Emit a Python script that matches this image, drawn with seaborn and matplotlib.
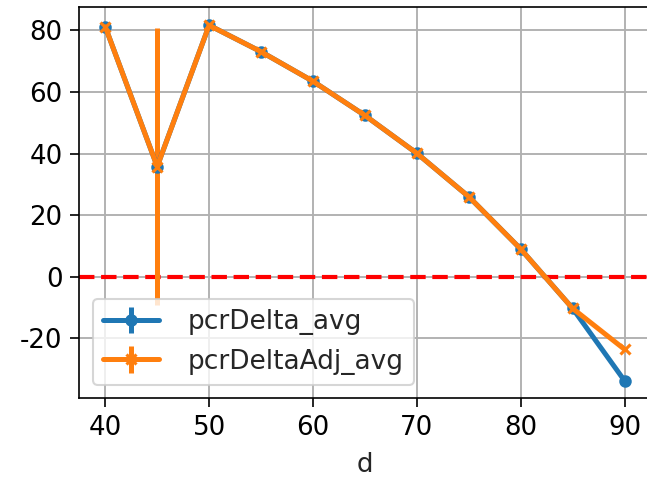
import matplotlib
matplotlib.use('Agg')
import matplotlib.pyplot as plt
import seaborn as sns

# data
d = [40, 45, 50, 55, 60, 65, 70, 75, 80, 85, 90]
pcrDelta_avg = [81.2, 35.8, 81.7, 73.1, 63.5, 52.4, 40.1, 26.0, 9.0, -10.3, -33.8]
pcrDelta_err = [0, 0, 0, 0, 0, 0, 0, 0, 0, 0, 0]
pcrDeltaAdj_avg = [81.2, 35.8, 81.7, 73.1, 63.5, 52.4, 40.1, 26.0, 9.0, -10.3, -23.6]
pcrDeltaAdj_err = [0, 45.0, 0, 0, 0, 0, 0, 0, 0, 0, 0]

sns.set_style('ticks')
plt.rcParams['font.family'] = ['DejaVu Sans']
plt.rcParams['axes.unicode_minus'] = False

fig = plt.figure(figsize=(647 / 150, 480 / 150), dpi=150)
ax = fig.add_axes([0.1226, 0.1698, 0.8828, 0.8146])

ax.errorbar(d, pcrDelta_avg, yerr=pcrDelta_err, marker='o', markersize=5,
            linewidth=2.4, elinewidth=2.4, color='#1f77b4', label='pcrDelta_avg')
ax.errorbar(d, pcrDeltaAdj_avg, yerr=pcrDeltaAdj_err, marker='x', markersize=5,
            markeredgewidth=1.5, linewidth=2.4, elinewidth=2.4, color='#ff7f0e',
            label='pcrDeltaAdj_avg')
ax.axhline(0, color='red', linestyle='--', linewidth=2, zorder=1.5)

ax.grid(True, color='#b0b0b0', linewidth=0.9)
ax.set_axisbelow(True)
ax.set_xticks([40, 50, 60, 70, 80, 90])
ax.set_yticks([-20, 0, 20, 40, 60, 80])
ax.tick_params(labelsize=12.5, length=4.5, width=0.8, colors='black')
for s in ax.spines.values():
    s.set_color('black')
    s.set_linewidth(0.8)
ax.set_xlabel('d', fontsize=12.5, labelpad=5)

ax.legend(loc='lower left', fontsize=12.7, handletextpad=1.1, handlelength=2.1,
          borderaxespad=0.5, framealpha=0.8)

fig.savefig('out.png', dpi=150)
